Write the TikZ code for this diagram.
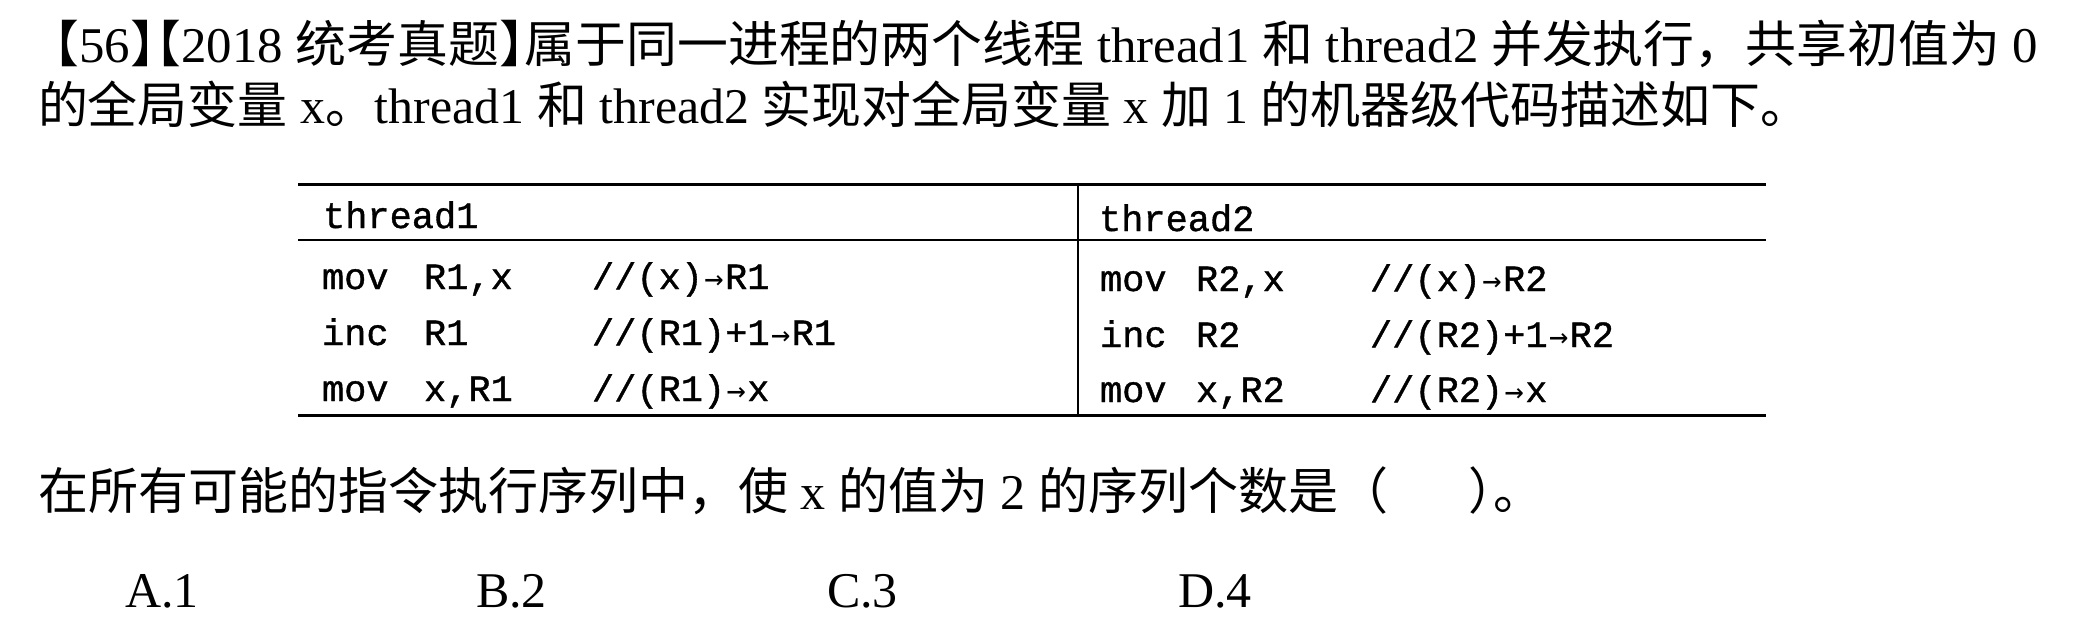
\documentclass[tikz,border=0pt]{standalone}
\usepackage{graphicx}
\usepackage{fontspec}
\setmainfont{Liberation Serif}
\newfontfamily\cjk{Noto Sans CJK SC}
\newfontfamily\codefont[FakeBold=1]{Liberation Mono}
\newfontfamily\arrfont{DejaVu Sans Mono}
\newcommand\myarr{\makebox[11pt]{\arrfont\fontsize{16}{16}\selectfont →}}
\newcommand\myob{\makebox[0.5em][r]{\cjk 【}}
\newcommand\mycb{\makebox[0.5em][l]{\cjk 】}}
\tikzset{
  txt/.style={inner sep=0pt, outer sep=0pt, anchor=base west, font=\fontsize{25}{30}\selectfont},
  code/.style={inner sep=0pt, outer sep=0pt, anchor=base west, font=\codefont\fontsize{18.5}{22}\selectfont},
  rulethick/.style={line width=1.5pt, black},
  rulethin/.style={line width=1.1pt, black}
}
\begin{document}
\begin{tikzpicture}[x=0.5pt, y=-0.5pt]
\useasboundingbox (0,0) rectangle (2081,627);
\fill[white] (0,0) rectangle (2081,627);
% text lines
\node[txt] (l1) at (54,62) {\resizebox{992pt}{\height}{\myob 56\mycb\myob 2018 {\cjk 统考真题}\mycb{\cjk 属于同一进程的两个线程} thread1 {\cjk 和} thread2 {\cjk 并发执行，共享初值为} 0}};
\node[txt] (l2) at (38,123) {\resizebox{886pt}{\height}{{\cjk 的全局变量} x{\cjk 。}thread1 {\cjk 和} thread2 {\cjk 实现对全局变量} x {\cjk 加} 1 {\cjk 的机器级代码描述如下。}}};
% table rules
\coordinate (tl) at (298,184);
\coordinate (tr) at (1766,184);
\coordinate (hl) at (298,240);
\coordinate (hr) at (1766,240);
\coordinate (bl) at (298,415);
\coordinate (br) at (1766,415);
\coordinate (dt) at (1078,184);
\coordinate (db) at (1078,415);
\draw[rulethick] (tl) -- (tr);
\draw[rulethin] (hl) -- (hr);
\draw[rulethick] (bl) -- (br);
\draw[rulethin] (dt) -- (db);
% thread1
\node[code] (h1) at (323,228) {thread1};
\node[code] (a1) at (322,289) {mov};
\node[code] (a2) at (424,289) {R1,x};
\node[code] (a3) at (592,289) {//(x)\myarr R1};
\node[code] (b1) at (322,345) {inc};
\node[code] (b2) at (424,345) {R1};
\node[code] (b3) at (592,345) {//(R1)+1\myarr R1};
\node[code] (c1) at (322,401) {mov};
\node[code] (c2) at (424,401) {x,R1};
\node[code] (c3) at (592,401) {//(R1)\myarr x};
% thread2
\node[code] (h2) at (1099,231) {thread2};
\node[code] (d1) at (1100,291) {mov};
\node[code] (d2) at (1196,291) {R2,x};
\node[code] (d3) at (1370,291) {//(x)\myarr R2};
\node[code] (e1) at (1100,347) {inc};
\node[code] (e2) at (1196,347) {R2};
\node[code] (e3) at (1370,347) {//(R2)+1\myarr R2};
\node[code] (f1) at (1100,402) {mov};
\node[code] (f2) at (1196,402) {x,R2};
\node[code] (f3) at (1370,402) {//(R2)\myarr x};
% question
\node[txt] (q) at (38,509) {{\cjk 在所有可能的指令执行序列中，使} x {\cjk 的值为} 2 {\cjk 的序列个数是（\hspace{1.6em}\makebox[0.5em][l]{）}。}};
\node[txt] (oa) at (125,607) {A.1};
\node[txt] (ob) at (476,607) {B.2};
\node[txt] (oc) at (827,607) {C.3};
\node[txt] (od) at (1178,607) {D.4};
\end{tikzpicture}
\end{document}
